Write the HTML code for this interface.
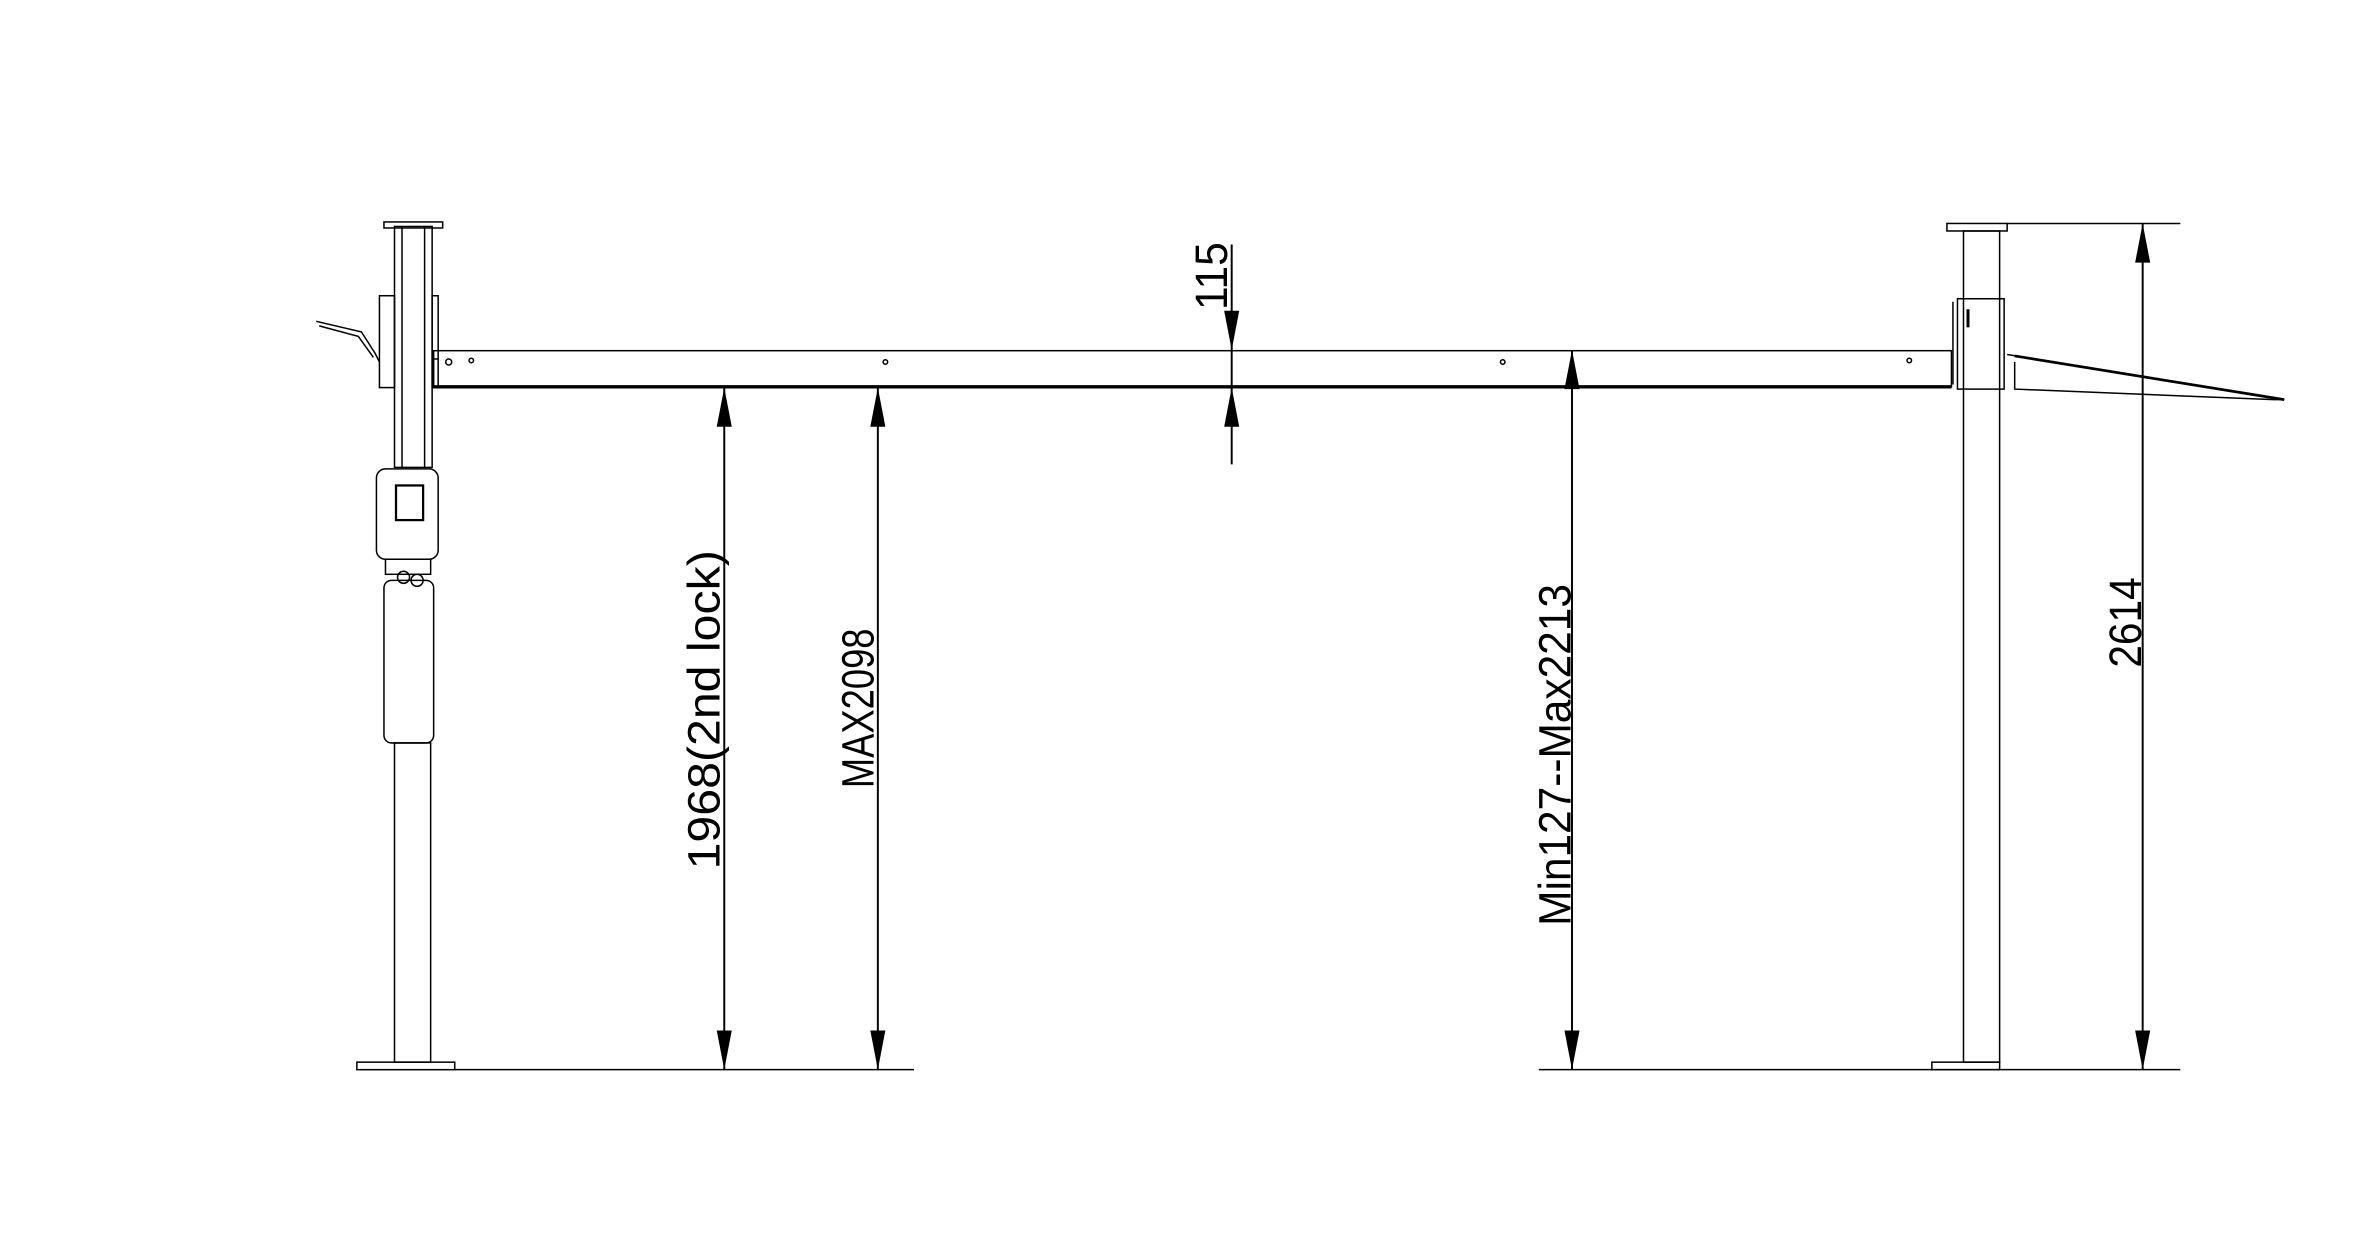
<!DOCTYPE html>
<html><head><style>html,body{margin:0;padding:0;background:#fff;}svg{display:block}</style></head>
<body>
<svg width="2361" height="1257" viewBox="0 0 1568 834" xmlns="http://www.w3.org/2000/svg" font-family="Liberation Sans, Arial, sans-serif">
<rect width="1568" height="834" fill="#fff"/>
<g fill="none" stroke="#000" stroke-width="1">
<!-- LEFT COLUMN -->
<rect x="255" y="147" width="39" height="4"/>
<rect x="262" y="150" width="25" height="160"/>
<line x1="267" y1="150" x2="267" y2="310"/>
<line x1="282" y1="150" x2="282" y2="310"/>
<rect x="252" y="196" width="10" height="61"/>
<rect x="287" y="196" width="4" height="61"/>
<line x1="288" y1="238" x2="291" y2="238"/>
<path d="M210 213 L240 220 L249 234 L252 240"/>
<path d="M212 216 L238 223 L248 237"/>
<rect x="250" y="311" width="41" height="60" rx="6"/>
<rect x="263" y="322" width="18" height="23" stroke-width="1.5"/>
<rect x="256" y="371" width="30" height="10"/>
<circle cx="268" cy="383" r="4"/>
<circle cx="277" cy="385" r="4"/>
<rect x="255" y="385" width="33" height="108" rx="5"/>
<rect x="262" y="493" width="24" height="212"/>
<rect x="237" y="705" width="65" height="5"/>
<!-- BEAM -->
<rect x="288" y="232.5" width="1008" height="24"/>
<line x1="288" y1="256.5" x2="1296" y2="256.5" stroke-width="2.2"/>
<circle cx="298" cy="240" r="2"/><circle cx="313" cy="239" r="1.5"/>
<circle cx="588" cy="240" r="1.5"/><circle cx="998" cy="240" r="1.5"/><circle cx="1268" cy="239" r="1.5"/>
<!-- RIGHT COLUMN -->
<rect x="1293" y="148" width="40" height="5"/>
<rect x="1304" y="153" width="24" height="552"/>
<rect x="1300" y="198" width="31" height="60"/>
<line x1="1297" y1="200" x2="1297" y2="255"/>
<line x1="1307" y1="205" x2="1307" y2="217" stroke-width="2"/>
<path d="M1333 235 L1517 265 L1510 265 L1338 258 L1338 240"/>
<line x1="1338" y1="236" x2="1517" y2="265" stroke-width="1.8"/>
<rect x="1283" y="705" width="45" height="5"/>
<!-- ground / extension lines -->
<line x1="302" y1="710" x2="607" y2="710"/>
<line x1="1022" y1="710" x2="1448" y2="710"/>
<line x1="1333" y1="148" x2="1448" y2="148"/>
<!-- dimension lines -->
<line x1="481" y1="257" x2="481" y2="710" stroke-width="1.3"/>
<line x1="583" y1="257" x2="583" y2="710" stroke-width="1.3"/>
<line x1="1044" y1="232" x2="1044" y2="710" stroke-width="1.3"/>
<line x1="1423" y1="148" x2="1423" y2="710" stroke-width="1.3"/>
<line x1="818" y1="162" x2="818" y2="308" stroke-width="1.3"/>
</g>
<g fill="#000">
<path d="M481 257 l-5 26 h10z"/><path d="M481 710 l-5 -26 h10z"/>
<path d="M583 257 l-5 26 h10z"/><path d="M583 710 l-5 -26 h10z"/>
<path d="M1044 232 l-5 26 h10z"/><path d="M1044 710 l-5 -26 h10z"/>
<path d="M1423 148 l-5 26 h10z"/><path d="M1423 710 l-5 -26 h10z"/>
<path d="M818 232 l-5 -26 h10z"/><path d="M818 257 l-5 26 h10z"/>
</g>
<g font-size="30" fill="#000" text-anchor="middle">
<text transform="translate(478,471) rotate(-90)" textLength="212" lengthAdjust="spacingAndGlyphs">1968(2nd lock)</text>
<text transform="translate(580,470) rotate(-90)" textLength="106" lengthAdjust="spacingAndGlyphs">MAX2098</text>
<text transform="translate(1043,501) rotate(-90)" textLength="227" lengthAdjust="spacingAndGlyphs">Min127--Max2213</text>
<text transform="translate(1422,413) rotate(-90)" textLength="60" lengthAdjust="spacingAndGlyphs">2614</text>
<text transform="translate(815,183) rotate(-90)" textLength="45" lengthAdjust="spacingAndGlyphs">115</text>
</g>
</svg>
</body></html>
